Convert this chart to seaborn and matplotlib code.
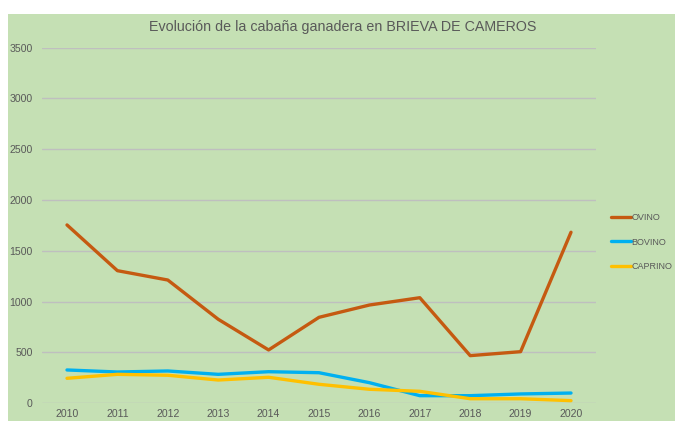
import matplotlib
matplotlib.use("Agg")
import matplotlib.pyplot as plt
from matplotlib.patches import Rectangle
import seaborn as sns
import pandas as pd

years = [2010, 2011, 2012, 2013, 2014, 2015, 2016, 2017, 2018, 2019, 2020]
ovino = [1755, 1305, 1213, 827, 525, 846, 967, 1039, 469, 508, 1683]
bovino = [328, 308, 318, 285, 311, 301, 203, 75, 75, 92, 101]
caprino = [246, 285, 276, 229, 256, 187, 138, 118, 45, 45, 26]
series_names = ["OVINO", "BOVINO", "CAPRINO"]
series_colors = ["#C55A11", "#00B0F0", "#FFC000"]
title = "Evolución de la cabaña ganadera en BRIEVA DE CAMEROS"

df = pd.DataFrame({
    "Año": years * 3,
    "Cabezas": ovino + bovino + caprino,
    "Especie": [n for n in series_names for _ in years],
})

sns.set_theme(style="white")
plt.rcParams["font.family"] = ["Liberation Sans", "DejaVu Sans"]

W, H = 675, 421
fig = plt.figure(figsize=(W / 100, H / 100), dpi=100)
fig.patch.set_facecolor("white")
bg = "#C5E0B4"
fig.add_artist(Rectangle((8 / W, 0), 1 - 8 / W, (H - 14) / H,
                         transform=fig.transFigure, facecolor=bg,
                         edgecolor="none", zorder=-10))

ax = fig.add_axes([41.8 / W, 17.7 / H, (596.2 - 41.8) / W, (403.3 - 47.6) / H])
ax.set_facecolor("none")

sns.lineplot(data=df, x="Año", y="Cabezas", hue="Especie",
             hue_order=series_names, palette=series_colors,
             linewidth=2.4, ax=ax, legend=True)

ax.set_xlim(2009.5, 2020.5)
ax.set_ylim(0, 3500)
ax.set_xticks(years)
ax.set_xticklabels([str(y) for y in years])
ax.set_yticks(range(0, 3501, 500))
ax.set_xlabel("")
ax.set_ylabel("")
for s in ax.spines.values():
    s.set_visible(False)
ax.grid(axis="y", color="#BFBFBF", linewidth=1.0)
ax.set_axisbelow(True)
ax.tick_params(axis="both", length=0, labelsize=7.6, colors="#595959")
ax.tick_params(axis="y", pad=6.5)
ax.tick_params(axis="x", pad=4)

fig.text(0.508, 1 - 27 / H, title, ha="center", va="center",
         fontsize=10.3, color="#595959")

leg = ax.legend(loc="center left", bbox_to_anchor=(1.02, (403.3 - 242) / (403.3 - 47.6)),
                frameon=False, fontsize=6.5, handlelength=2.2, handletextpad=0.1,
                labelspacing=1.75, borderaxespad=0)
for t in leg.get_texts():
    t.set_color("#595959")
for l in leg.get_lines():
    l.set_linewidth(2.4)

fig.savefig("out.png", dpi=100, facecolor="white")
